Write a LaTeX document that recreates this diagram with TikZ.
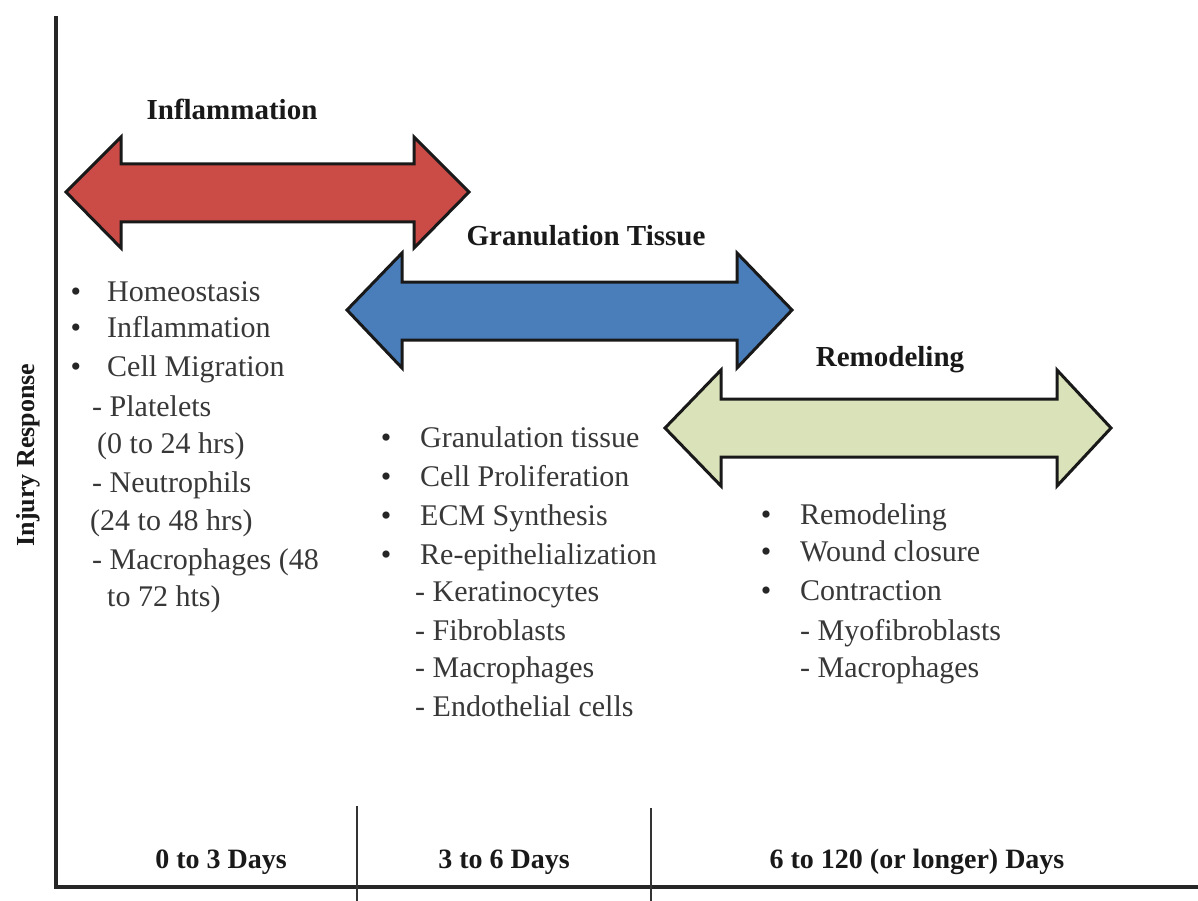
\documentclass[tikz,border=0pt]{standalone}
\usepackage{fontspec}
\setmainfont{Liberation Serif}
\begin{document}
\begin{tikzpicture}[x=1pt,y=-1pt,
  axis/.style={line width=3.5pt,color=black!85},
  divider/.style={line width=1.6pt,color=black!80},
  phasearrow/.style={line width=3pt,draw=black!90,line join=miter},
  title/.style={font=\fontsize{29}{34}\selectfont\bfseries,anchor=base,text=black!90,inner sep=0pt},
  item/.style={font=\fontsize{30}{36}\selectfont,anchor=base west,text=black!78,inner sep=0pt},
  bul/.style={font=\fontsize{30}{36}\selectfont,anchor=base,text=black!85,inner sep=0pt},
  days/.style={font=\fontsize{28}{34}\selectfont\bfseries,anchor=base,text=black!90,inner sep=0pt}
]
\definecolor{infred}{HTML}{CB4B47}
\definecolor{granblue}{HTML}{4A7EBB}
\definecolor{remgreen}{HTML}{D9E2B9}
\useasboundingbox (0,0) rectangle (1198,901);
\fill[white] (0,0) rectangle (1198,901);

% axes
\coordinate (ytop) at (56,16);
\coordinate (orig) at (56,887);
\coordinate (xend) at (1198,887);
\draw[axis] (ytop) -- (orig) -- (xend);
\coordinate (d1t) at (357,806);
\coordinate (d1b) at (357,901);
\coordinate (d2t) at (651,808);
\coordinate (d2b) at (651,901);
\draw[divider] (d1t) -- (d1b);
\draw[divider] (d2t) -- (d2b);

% phase arrows
\draw[phasearrow,fill=infred] (66,192) -- (121,137) -- (121,164) -- (414,164) -- (414,137)
  -- (469,192) -- (414,248) -- (414,222) -- (121,222) -- (121,248) -- cycle;
\draw[phasearrow,fill=granblue] (347,310) -- (402,253) -- (402,282) -- (737,282) -- (737,253)
  -- (792,310) -- (737,368) -- (737,340) -- (402,340) -- (402,368) -- cycle;
\draw[phasearrow,fill=remgreen] (665,428) -- (721,370) -- (721,399) -- (1057,399) -- (1057,370)
  -- (1111,428) -- (1057,486) -- (1057,457) -- (721,457) -- (721,486) -- cycle;

% titles
\node[title] (tinf) at (232,120) {Inflammation};
\node[title] (tgran) at (586,246) {Granulation Tissue};
\node[title] (trem) at (890,366) {Remodeling};

% y axis label
\node[font=\fontsize{26}{30}\selectfont\bfseries,rotate=90,text=black!90] (ylab) at (28,455) {Injury Response};

% left list
\node[bul] (lb1) at (76,301) {•};
\node[bul] (lb2) at (76,337) {•};
\node[bul] (lb3) at (76,376) {•};
\node[item] (l1) at (107,301) {Homeostasis};
\node[item] (l2) at (107,337) {Inflammation};
\node[item] (l3) at (107,376) {Cell Migration};
\node[item] (l4) at (92,416) {- Platelets};
\node[item] (l5) at (97,453) {(0 to 24 hrs)};
\node[item] (l6) at (92,492) {- Neutrophils};
\node[item] (l7) at (90,530) {(24 to 48 hrs)};
\node[item] (l8) at (92,569) {- Macrophages (48};
\node[item] (l9) at (107,606) {to 72 hts)};

% middle list
\node[bul] (mb1) at (386,447) {•};
\node[bul] (mb2) at (386,486) {•};
\node[bul] (mb3) at (386,525) {•};
\node[bul] (mb4) at (386,564) {•};
\node[item] (m1) at (420,447) {Granulation tissue};
\node[item] (m2) at (420,486) {Cell Proliferation};
\node[item] (m3) at (420,525) {ECM Synthesis};
\node[item] (m4) at (420,564) {Re-epithelialization};
\node[item] (m5) at (415,601) {- Keratinocytes};
\node[item] (m6) at (415,640) {- Fibroblasts};
\node[item] (m7) at (415,677) {- Macrophages};
\node[item] (m8) at (415,716) {- Endothelial cells};

% right list
\node[bul] (rb1) at (766,524) {•};
\node[bul] (rb2) at (766,561) {•};
\node[bul] (rb3) at (766,600) {•};
\node[item] (r1) at (800,524) {Remodeling};
\node[item] (r2) at (800,561) {Wound closure};
\node[item] (r3) at (800,600) {Contraction};
\node[item] (r4) at (800,640) {- Myofibroblasts};
\node[item] (r5) at (800,677) {- Macrophages};

% day ranges
\node[days] (day1) at (221,868) {0 to 3 Days};
\node[days] (day2) at (504,868) {3 to 6 Days};
\node[days] (day3) at (917,868) {6 to 120 (or longer) Days};
\end{tikzpicture}
\end{document}
